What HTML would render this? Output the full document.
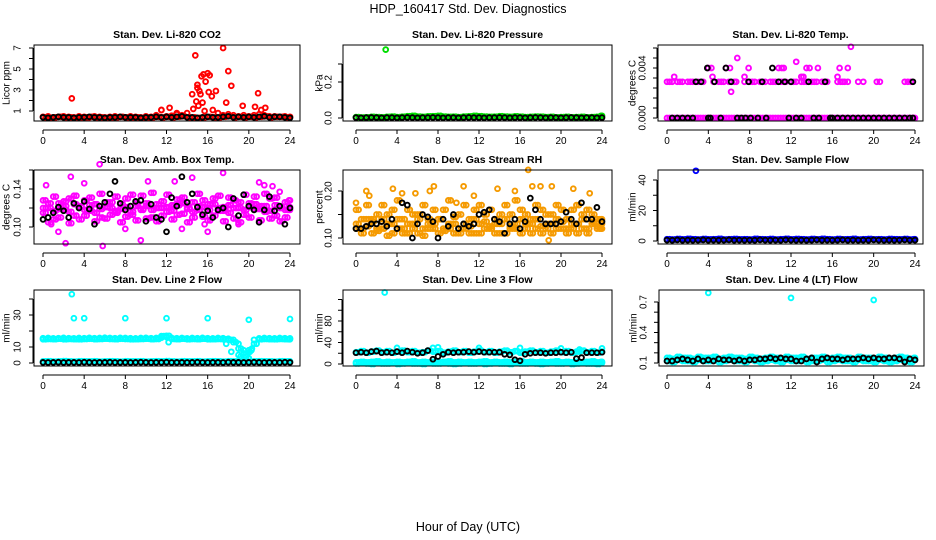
<!DOCTYPE html>
<html><head><meta charset="utf-8">
<style>
body{margin:0;background:#fff;}
svg{display:block;font-family:"Liberation Sans",sans-serif;}
</style></head>
<body>
<svg id="chart" width="936" height="540" viewBox="0 0 936 540" xmlns="http://www.w3.org/2000/svg">
<rect width="936" height="540" fill="#fff"/>
<text x="468" y="13" font-size="12.5" text-anchor="middle">HDP_160417  Std. Dev. Diagnostics</text>
<text x="468" y="531" font-size="12.5" text-anchor="middle">Hour of Day (UTC)</text>
</svg>
<script>
const HOURS = [0,0.5,1,1.5,2,2.5,3,3.5,4,4.5,5,5.5,6,6.5,7,7.5,8,8.5,9,9.5,10,10.5,11,11.5,12,12.5,13,13.5,14,14.5,15,15.5,16,16.5,17,17.5,18,18.5,19,19.5,20,20.5,21,21.5,22,22.5,23,23.5,24];
const HOURS_Q = [0.25,0.75,1.25,1.75,2.25,2.75,3.25,3.75,4.25,4.75,5.25,5.75,6.25,6.75,7.25,7.75,8.25,8.75,9.25,9.75,10.25,10.75,11.25,11.75,12.25,12.75,13.25,13.75,14.25,14.75,15.25,15.75,16.25,16.75,17.25,17.75,18.25,18.75,19.25,19.75,20.25,20.75,21.25,21.75,22.25,22.75,23.25,23.75,23.9];
const X_TICKS = [0,4,8,12,16,20,24];

// Panel 1: CO2
const co2Red = [0.45,0.5,0.4,0.45,0.5,0.45,0.4,0.5,0.45,0.4,0.5,0.45,0.4,0.45,0.5,0.45,0.4,0.5,0.45,0.4,0.5,0.45,0.6,1.1,0.5,0.55,0.7,0.6,0.8,2.6,3.2,1.8,4.6,1.1,0.8,0.6,0.7,0.6,0.5,0.6,0.5,0.6,0.7,0.6,0.5,0.5,0.45,0.5,0.45];
const co2RedExtraH = [2.8,11.5,12.3,14.8,15.0,15.2,15.4,15.6,15.8,16.2,16.4,16.8,17.5,17.8,18,18.3,19.4,20.6,20.9,21.2,21.6,13,15.3,15.1,14.9,14.6,15.7,16.1];
const co2RedExtraV = [2.2,1.1,1.3,6.3,3.5,2.9,4.3,4.5,3.8,4.4,2.4,2.9,7.0,1.8,4.8,3.4,1.5,1.4,2.7,1.1,1.3,0.8,2.6,1.5,1.9,1.2,1.0,2.8];
const co2Black = [0.4,0.35,0.4,0.45,0.4,0.4,0.35,0.4,0.4,0.45,0.4,0.4,0.35,0.4,0.4,0.45,0.4,0.4,0.4,0.35,0.4,0.4,0.45,0.4,0.45,0.4,0.45,0.5,0.4,0.4,0.35,0.4,0.45,0.4,0.4,0.45,0.5,0.4,0.45,0.4,0.45,0.4,0.45,0.5,0.4,0.45,0.45,0.4,0.35];

// Panel 2: pressure
const presGreen = [0.005,0.003,0.004,0.006,0.005,0.004,0.006,0.008,0.005,0.007,0.01,0.012,0.008,0.006,0.009,0.01,0.012,0.008,0.006,0.007,0.005,0.008,0.009,0.012,0.01,0.008,0.006,0.007,0.01,0.008,0.006,0.009,0.007,0.005,0.006,0.008,0.007,0.005,0.006,0.004,0.005,0.006,0.004,0.005,0.006,0.004,0.005,0.006,0.012];
const presGreenExtraH = [2.9];
const presGreenExtraV = [0.38];
const presBlack = [0.002,0.001,0.002,0.003,0.002,0.001,0.002,0.002,0.001,0.002,0.003,0.002,0.001,0.002,0.002,0.003,0.002,0.001,0.002,0.002,0.001,0.002,0.003,0.002,0.002,0.001,0.002,0.002,0.003,0.002,0.001,0.002,0.002,0.001,0.002,0.003,0.002,0.001,0.002,0.002,0.001,0.002,0.003,0.002,0.001,0.002,0.002,0.001,0.002];

// Panel 3: Li-820 temp
const tempMagLow = [0,0,0,0,0,0,0,0,0,0,0,0,0,0,0,0,0,0,0,0,0,0,0,0,0,0,0,0,0,0,0,0,0,0,0,0,0,0,0,0,0,0,0,0,0,0,0,0,0];
const tempMagMidH = [0,0.5,1,1.5,2,2.5,3,3.5,4.5,5,5.5,6,6.5,7.5,8,8.5,9,9.5,10,10.5,11,11.5,12,12.5,13,13.5,14,14.5,15,15.5,16.5,17,17.5,18.5,19,20.3,20.6,23,23.3,23.6,0.25,1.25,2.25,5.25,6.7,8.25,9.25,10.25,11.25,12.25,13.25,14.25,15.25,16.8,17.2];
const tempMagMidV = [0.0029,0.0029,0.0029,0.0029,0.0029,0.0029,0.0029,0.0029,0.0029,0.0029,0.0029,0.0029,0.0029,0.0029,0.0029,0.0029,0.0029,0.0029,0.0029,0.0029,0.0029,0.0029,0.0029,0.0029,0.0029,0.0029,0.0029,0.0029,0.0029,0.0029,0.0029,0.0029,0.0029,0.0029,0.0029,0.0029,0.0029,0.0029,0.0029,0.0029,0.0029,0.0029,0.0029,0.0029,0.0029,0.0029,0.0029,0.0029,0.0029,0.0029,0.0029,0.0029,0.0029,0.0029,0.0029];
const tempMagHighH = [0.7,4,4.3,4.4,5.7,6.1,6.2,6.8,7.5,7.9,10.8,11.1,11.3,12.5,13,13.2,13.5,13.8,14.6,16.5,16.7,17.5,17.8];
const tempMagHighV = [0.0033,0.004,0.004,0.0033,0.004,0.004,0.0021,0.0048,0.0033,0.004,0.004,0.004,0.004,0.0045,0.0033,0.0033,0.004,0.004,0.004,0.0033,0.004,0.004,0.0057];
const tempBlackH = [0.5,1,1.5,2,2.5,4,4.2,5.2,6.8,7.2,7.6,8.1,8.8,9.6,11.8,12.5,13,14.2,14.7,15.8,16,16.5,17,17.5,18,18.5,19,19.5,20,20.5,21,21.5,22,22.5,23,23.5,23.8,2.8,3.3,4.6,6.2,7.9,9.2,10.8,11.4,12,13.7,15.3,23.8,3.9,5.7,10.2];
const tempBlackV = [0,0,0,0,0,0,0,0,0,0,0,0,0,0,0,0,0,0,0,0,0,0,0,0,0,0,0,0,0,0,0,0,0,0,0,0,0,0.0029,0.0029,0.0029,0.0029,0.0029,0.0029,0.0029,0.0029,0.0029,0.0029,0.0029,0.0029,0.004,0.004,0.004];

// Panel 4: box temp
const btA = [0.115,0.12,0.108,0.125,0.118,0.13,0.112,0.122,0.128,0.117,0.124,0.11,0.121,0.126,0.115,0.119,0.13,0.113,0.122,0.118,0.125,0.11,0.12,0.127,0.116,0.123,0.129,0.114,0.12,0.126,0.118,0.111,0.124,0.13,0.117,0.121,0.115,0.128,0.12,0.113,0.125,0.119,0.122,0.116,0.13,0.112,0.12,0.126,0.118];
const btB = [0.128,0.105,0.132,0.11,0.127,0.104,0.133,0.108,0.112,0.131,0.106,0.135,0.109,0.113,0.132,0.105,0.111,0.134,0.107,0.133,0.109,0.136,0.106,0.112,0.134,0.108,0.113,0.131,0.105,0.11,0.135,0.128,0.107,0.112,0.133,0.106,0.131,0.109,0.105,0.134,0.11,0.132,0.107,0.135,0.109,0.131,0.106,0.11,0.128];
const btC = [0.12,0.125,0.117,0.119,0.122,0.116,0.124,0.121,0.118,0.123,0.115,0.119,0.126,0.12,0.117,0.124,0.121,0.116,0.125,0.119,0.122,0.118,0.124,0.12,0.121,0.117,0.123,0.125,0.119,0.116,0.122,0.121,0.118,0.124,0.12,0.117,0.123,0.12,0.126,0.118,0.121,0.124,0.119,0.122,0.117,0.123,0.12,0.118,0.121];
const btExtraH = [0.3,0.8,1.5,2.2,2.7,4,5.5,5.8,8,9.5,10.2,12.8,13.5,14.5,15.7,16,17.5,19,21,21.5,22.3,23];
const btExtraV = [0.144,0.103,0.095,0.083,0.153,0.146,0.166,0.08,0.098,0.086,0.148,0.148,0.098,0.152,0.103,0.095,0.157,0.103,0.147,0.144,0.143,0.137];
const btBlack = [0.108,0.11,0.115,0.121,0.117,0.11,0.125,0.12,0.127,0.119,0.103,0.122,0.126,0.135,0.148,0.125,0.118,0.122,0.127,0.128,0.106,0.124,0.11,0.108,0.095,0.131,0.122,0.153,0.126,0.135,0.121,0.113,0.117,0.11,0.118,0.12,0.1,0.13,0.112,0.134,0.122,0.118,0.105,0.118,0.132,0.117,0.122,0.103,0.12];

// Panel 5: RH
const rhA = [0.13,0.12,0.14,0.11,0.15,0.12,0.13,0.16,0.12,0.14,0.11,0.13,0.15,0.12,0.14,0.13,0.11,0.16,0.12,0.13,0.15,0.12,0.14,0.11,0.13,0.15,0.12,0.14,0.13,0.11,0.15,0.12,0.16,0.13,0.14,0.12,0.11,0.15,0.13,0.12,0.16,0.14,0.12,0.13,0.15,0.11,0.13,0.14,0.12];
const rhB = [0.16,0.11,0.17,0.14,0.12,0.17,0.15,0.11,0.18,0.12,0.16,0.15,0.11,0.17,0.12,0.16,0.14,0.12,0.18,0.11,0.12,0.17,0.11,0.16,0.17,0.12,0.16,0.11,0.15,0.17,0.12,0.18,0.11,0.15,0.11,0.17,0.16,0.12,0.15,0.17,0.12,0.11,0.16,0.17,0.12,0.16,0.15,0.12,0.14];
const rhC = [0.12,0.14,0.125,0.135,0.115,0.14,0.105,0.13,0.14,0.11,0.13,0.12,0.14,0.105,0.13,0.12,0.14,0.115,0.13,0.145,0.11,0.13,0.125,0.14,0.11,0.135,0.125,0.13,0.11,0.14,0.125,0.13,0.14,0.12,0.13,0.14,0.125,0.13,0.11,0.14,0.135,0.12,0.13,0.11,0.14,0.12,0.135,0.125,0.13];
const rhExtraH = [0,1,1.3,3.6,4.5,5.8,7.2,7.6,9.8,10.5,11.5,13.8,15.5,16.8,17.2,18,18.8,19.1,21.2,22.8];
const rhExtraV = [0.175,0.2,0.19,0.205,0.195,0.195,0.2,0.21,0.175,0.21,0.19,0.205,0.2,0.245,0.21,0.21,0.095,0.21,0.205,0.195];
const rhBlack = [0.12,0.12,0.125,0.13,0.13,0.135,0.125,0.14,0.12,0.175,0.17,0.1,0.13,0.15,0.145,0.135,0.1,0.14,0.125,0.15,0.12,0.13,0.125,0.13,0.15,0.155,0.16,0.14,0.135,0.11,0.13,0.14,0.12,0.135,0.185,0.16,0.14,0.13,0.13,0.13,0.135,0.155,0.14,0.13,0.175,0.14,0.14,0.165,0.135];

// Panel 6: sample flow
const sfBlue = [1.2,1.0,1.3,1.1,1.4,1.2,1.0,1.3,1.1,1.2,1.4,1.0,1.2,1.3,1.1,1.2,1.0,1.4,1.2,1.1,1.3,1.0,1.2,1.4,1.1,1.3,1.2,1.0,1.3,1.1,1.4,1.2,1.0,1.3,1.1,1.2,1.4,1.0,1.2,1.3,1.1,1.2,1.0,1.3,1.2,1.1,1.3,1.0,1.2];
const sfBlueExtraH = [2.8];
const sfBlueExtraV = [46];
const sfBlack = [0.6,0.5,0.7,0.5,0.6,0.5,0.6,0.7,0.5,0.6,0.5,0.6,0.7,0.5,0.6,0.5,0.6,0.5,0.7,0.6,0.5,0.6,0.5,0.7,0.6,0.5,0.6,0.5,0.6,0.7,0.5,0.6,0.5,0.6,0.7,0.5,0.6,0.5,0.6,0.5,0.7,0.6,0.5,0.6,0.5,0.6,0.7,0.5,0.6];

// Panel 7: line 2 flow
const l2Hi = [15.5,15.6,15.4,15.5,15.7,15.5,15.4,15.6,15.5,15.7,15.5,15.6,15.8,15.6,15.5,15.7,15.6,15.5,15.4,15.6,15.7,15.5,15.6,15.8,16.2,15.7,15.5,15.6,15.4,15.6,15.5,15.7,15.5,15.4,15.6,15.5,15.2,14.5,12,6,3,14.5,15.4,15.6,15.5,15.4,15.6,15.5,15.4];
const l2Hi2 = [14.8,15.0,14.9,15.1,14.8,15.0,14.9,14.8,15.0,15.1,14.9,15.0,15.2,15.0,14.9,15.1,15.0,14.8,14.9,15.0,15.1,14.9,15.0,16.8,17.0,15.0,14.9,15.1,14.8,15.0,14.9,15.1,14.8,14.9,15.0,14.8,14.5,13,9,4,8,12,14.8,15.0,14.9,14.8,15.0,14.9,14.8];
const l2Lo = [1.0,1.1,0.9,1.0,1.2,1.0,0.9,1.1,1.0,1.0,1.1,0.9,1.0,1.1,1.0,0.9,1.1,1.0,1.0,1.1,0.9,1.0,1.1,1.0,1.2,1.0,0.9,1.1,1.0,1.0,1.1,0.9,1.0,1.1,1.0,0.9,1.1,1.0,1.0,1.1,0.9,1.0,1.1,1.0,1.0,0.9,1.1,1.0,1.0];
const l2ExtraH = [2.8,3,4,8,12,16,20,24,18.3,19,19.5,20,20.3,12.2,17.8,19.2,20.1];
const l2ExtraV = [43,28,28,28,28,28,27,27.5,7,5,8,3,9,13,12,4,7];
const l2Black = [0.4,0.3,0.4,0.5,0.3,0.4,0.4,0.3,0.5,0.4,0.3,0.4,0.4,0.5,0.3,0.4,0.4,0.3,0.4,0.5,0.4,0.3,0.4,0.4,0.5,0.3,0.4,0.4,0.3,0.4,0.5,0.4,0.3,0.4,0.4,0.3,0.5,0.4,0.4,0.3,0.4,0.5,0.4,0.3,0.4,0.4,0.3,0.5,0.4];

// Panel 8: line 3 flow
const l3LoA = [1,2,1,0,2,1,1,2,0,1,2,1,1,0,2,1,1,2,1,0,1,2,1,1,2,0,1,2,1,1,0,2,1,1,2,1,0,1,2,1,1,2,0,1,2,1,1,0,2];
const l3LoB = [3,4,3,4,5,3,4,3,4,3,4,5,3,4,3,4,3,4,5,3,4,3,4,3,4,5,3,4,3,4,3,4,5,3,4,3,4,3,4,5,3,4,3,4,3,4,5,3,4];
const l3Hi = [22,24,21,23,25,22,24,21,23,25,22,24,21,22,25,23,24,21,23,25,22,24,21,23,25,22,24,21,23,25,22,24,21,23,25,22,24,21,23,25,22,24,21,23,25,22,24,21,23];
const l3ExtraH = [2.8,4,7.5,8,12,16,20,21.8,24];
const l3ExtraV = [133,30,30,31,30,30,29,27,29];
const l3Black = [21,22,21,23,24,21,22,21,23,21,24,22,20,21,25,9,14,18,22,21,22,22,23,22,23,22,22,22,22,18,17,8,6,18,20,21,21,20,21,21,22,21,22,10,12,21,21,21,22];

// Panel 9: line 4 (LT) flow
const l4A = [0.12,0.14,0.13,0.15,0.12,0.14,0.13,0.12,0.15,0.13,0.14,0.12,0.13,0.15,0.12,0.14,0.13,0.12,0.14,0.15,0.13,0.12,0.14,0.13,0.15,0.12,0.13,0.14,0.12,0.15,0.13,0.14,0.12,0.13,0.15,0.12,0.14,0.13,0.12,0.15,0.14,0.13,0.12,0.14,0.15,0.13,0.12,0.14,0.13];
const l4B = [0.15,0.11,0.16,0.12,0.15,0.11,0.16,0.15,0.12,0.16,0.11,0.15,0.16,0.12,0.15,0.11,0.16,0.15,0.11,0.12,0.16,0.15,0.11,0.16,0.12,0.15,0.16,0.11,0.15,0.12,0.16,0.11,0.15,0.16,0.12,0.15,0.11,0.16,0.15,0.12,0.11,0.16,0.15,0.11,0.12,0.16,0.15,0.11,0.15];
const l4ExtraH = [4,12,20];
const l4ExtraV = [0.79,0.74,0.72];
const l4Black = [0.12,0.12,0.13,0.14,0.13,0.12,0.14,0.12,0.13,0.12,0.14,0.13,0.13,0.12,0.13,0.12,0.13,0.13,0.14,0.14,0.15,0.14,0.15,0.14,0.14,0.12,0.12,0.14,0.15,0.11,0.14,0.15,0.14,0.14,0.13,0.14,0.14,0.14,0.15,0.14,0.15,0.14,0.14,0.15,0.15,0.14,0.11,0.14,0.13];

const svg = document.getElementById('chart');
const NS = 'http://www.w3.org/2000/svg';
function mk(tag, attrs){ const e=document.createElementNS(NS,tag); for(const k in attrs) e.setAttribute(k,attrs[k]); svg.appendChild(e); return e; }

const panels = [
 {key:'co2', title:'Stan. Dev. Li-820 CO2', ylab:'Licor ppm', box:[34,45,300,121], x0:43, x24:290, y:[1,111,7,48], ticks:[1,2,3,4,5,6,7], labels:['1','3','5','7'], lv:[1,3,5,7], lo:-16, yl:-27},
 {key:'pres', title:'Stan. Dev. Li-820 Pressure', ylab:'kPa', box:[343,45,612,121], x0:356, x24:602, y:[0,118,0.2,82], ticks:[0,0.1,0.2,0.3], labels:['0.0','0.2'], lv:[0,0.2], lo:-14, yl:-23},
 {key:'temp', title:'Stan. Dev. Li-820 Temp.', ylab:'degrees C', box:[658,45,923,121], x0:667, x24:915, y:[0,118,0.004,68], ticks:[0,0.0008,0.0016,0.0024,0.0032,0.004,0.0048,0.0056], labels:['0.000','0.004'], lv:[0,0.004], lo:-15, yl:-25},
 {key:'boxtemp', title:'Stan. Dev. Amb. Box Temp.', ylab:'degrees C', box:[34,170,300,244], x0:43, x24:290, y:[0.10,227,0.14,189], ticks:[0.10,0.12,0.14,0.16], labels:['0.10','0.14'], lv:[0.10,0.14], lo:-16, yl:-27},
 {key:'rh', title:'Stan. Dev. Gas Stream RH', ylab:'percent', box:[343,170,612,244], x0:356, x24:602, y:[0.10,238,0.20,191], ticks:[0.10,0.15,0.20], labels:['0.10','0.20'], lv:[0.10,0.20], lo:-14, yl:-23},
 {key:'sflow', title:'Stan. Dev. Sample Flow', ylab:'ml/min', box:[658,170,923,244], x0:667, x24:915, y:[0,241,40,180], ticks:[0,10,20,30,40], labels:['0','20','40'], lv:[0,20,40], lo:-15, yl:-25},
 {key:'l2', title:'Stan. Dev. Line 2 Flow', ylab:'ml/min', box:[34,290,300,366], x0:43, x24:290, y:[0,363,30,315], ticks:[0,10,20,30,40], labels:['0','10','30'], lv:[0,10,30], lo:-16, yl:-27},
 {key:'l3', title:'Stan. Dev. Line 3 Flow', ylab:'ml/min', box:[343,290,612,366], x0:356, x24:602, y:[0,364,80,321], ticks:[0,20,40,60,80,100,120], labels:['0','40','80'], lv:[0,40,80], lo:-14, yl:-23},
 {key:'l4', title:'Stan. Dev. Line 4 (LT) Flow', ylab:'ml/min', box:[659,290,924,366], x0:667, x24:915, y:[0.1,363,0.7,302], ticks:[0.1,0.2,0.3,0.4,0.5,0.6,0.7], labels:['0.1','0.4','0.7'], lv:[0.1,0.4,0.7], lo:-15, yl:-25}
];

const series = {
 co2:[[HOURS,co2Red,'#ff0000'],[HOURS_Q,co2Black,'#ff0000'],[co2RedExtraH,co2RedExtraV,'#ff0000'],[HOURS,co2Black,'#000']],
 pres:[[HOURS,presGreen,'#00dd00'],[HOURS_Q,presGreen,'#00dd00'],[presGreenExtraH,presGreenExtraV,'#00dd00'],[HOURS,presBlack,'#000']],
 temp:[[HOURS,tempMagLow,'#ff00ff'],[HOURS_Q,tempMagLow,'#ff00ff'],[tempMagMidH,tempMagMidV,'#ff00ff'],[tempMagHighH,tempMagHighV,'#ff00ff'],[tempBlackH,tempBlackV,'#000']],
 boxtemp:[[HOURS,btA,'#ff00ff'],[HOURS,btB,'#ff00ff'],[HOURS,btC,'#ff00ff'],[HOURS_Q,btA,'#ff00ff'],[HOURS_Q,btB,'#ff00ff'],[HOURS_Q,btC,'#ff00ff'],[btExtraH,btExtraV,'#ff00ff'],[HOURS,btBlack,'#000']],
 rh:[[HOURS,rhA,'#f59a00'],[HOURS,rhB,'#f59a00'],[HOURS,rhC,'#f59a00'],[HOURS_Q,rhA,'#f59a00'],[HOURS_Q,rhB,'#f59a00'],[HOURS_Q,rhC,'#f59a00'],[rhExtraH,rhExtraV,'#f59a00'],[HOURS,rhBlack,'#000']],
 sflow:[[HOURS,sfBlue,'#0000ff'],[HOURS_Q,sfBlue,'#0000ff'],[sfBlueExtraH,sfBlueExtraV,'#0000ff'],[HOURS,sfBlack,'#000']],
 l2:[[HOURS,l2Hi,'#00ffff'],[HOURS_Q,l2Hi2,'#00ffff'],[HOURS,l2Hi2,'#00ffff'],[HOURS,l2Lo,'#00ffff'],[HOURS_Q,l2Lo,'#00ffff'],[l2ExtraH,l2ExtraV,'#00ffff'],[HOURS,l2Black,'#000']],
 l3:[[HOURS,l3LoA,'#00ffff'],[HOURS_Q,l3LoA,'#00ffff'],[HOURS,l3LoB,'#00ffff'],[HOURS_Q,l3LoB,'#00ffff'],[HOURS,l3Hi,'#00ffff'],[HOURS_Q,l3Hi,'#00ffff'],[l3ExtraH,l3ExtraV,'#00ffff'],[HOURS,l3Black,'#000']],
 l4:[[HOURS,l4A,'#00ffff'],[HOURS,l4B,'#00ffff'],[HOURS_Q,l4A,'#00ffff'],[HOURS_Q,l4B,'#00ffff'],[l4ExtraH,l4ExtraV,'#00ffff'],[HOURS,l4Black,'#000']]
};

panels.forEach(p=>{
  const [l,t,r,b] = p.box;
  const xs = h => p.x0 + (p.x24-p.x0)*h/24;
  const ys = v => p.y[1] + (p.y[3]-p.y[1])*(v-p.y[0])/(p.y[2]-p.y[0]);
  const title = mk('text',{x:(l+r)/2, y:t-7, 'font-size':10.5, 'font-weight':'bold', 'text-anchor':'middle'});
  
  
  title.textContent = p.title;
  series[p.key].forEach((s,si)=>{
    const [hs,vs,col] = s;
    for(let i=0;i<vs.length;i++){
      const c = mk('circle',{cx:xs(hs[i]).toFixed(1), cy:ys(vs[i]).toFixed(1), r:2.4, fill:'none', stroke:col, 'stroke-width':1.9});
      
      
    }
  });
  const box = mk('rect',{x:l, y:t, width:r-l, height:b-t, fill:'none', stroke:'#000', 'stroke-width':1});
  
  
  const ay = b+9;
  const xl = mk('line',{x1:xs(0), x2:xs(24), y1:ay, y2:ay, stroke:'#000'});
  
  
  X_TICKS.forEach(h=>{
    mk('line',{x1:xs(h), x2:xs(h), y1:ay, y2:ay+4, stroke:'#000'});
    const tl = mk('text',{x:xs(h), y:ay+14, 'font-size':10, 'text-anchor':'middle'});
    
    
    tl.textContent = h;
  });
  const ax = l-1;
  const ylTop = ys(p.ticks[p.ticks.length-1]), ylBot = ys(p.ticks[0]);
  const yline = mk('line',{x1:ax, x2:ax, y1:ylTop, y2:ylBot, stroke:'#000'});
  
  
  p.ticks.forEach(v=>{ mk('line',{x1:ax-4, x2:ax, y1:ys(v), y2:ys(v), stroke:'#000'}); });
  p.lv.forEach((v,i)=>{
    const x = l+p.lo, y = ys(v);
    const tl = mk('text',{x:x, y:y, 'font-size':10, 'text-anchor':'middle', 'dominant-baseline':'middle', transform:`rotate(-90 ${x} ${y})`});
    
    
    tl.textContent = p.labels[i];
  });
  const yx = l+p.yl, yy = (t+b)/2;
  const yt = mk('text',{x:yx, y:yy, 'font-size':10, 'text-anchor':'middle', 'dominant-baseline':'middle', transform:`rotate(-90 ${yx} ${yy})`});
  
  
  yt.textContent = p.ylab;
});
</script>
</body></html>
